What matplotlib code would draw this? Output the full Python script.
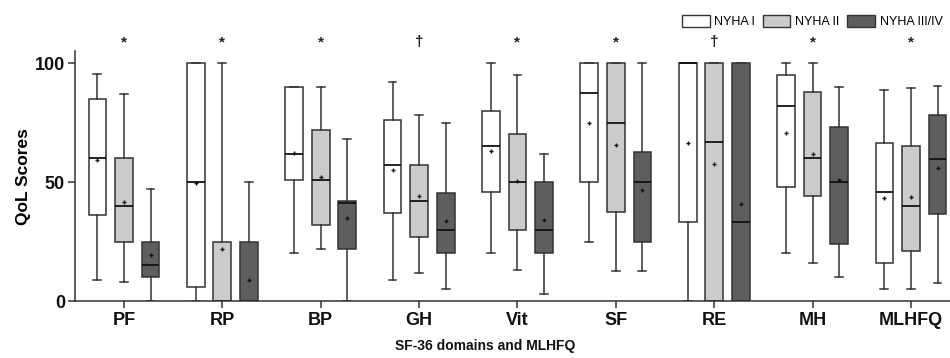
"""QoL box plots by NYHA class across SF-36 domains and MLHFQ."""

import matplotlib

matplotlib.use("Agg")
import matplotlib.pyplot as plt
from matplotlib.patches import Patch

plt.rcParams["font.family"] = ["Liberation Sans", "DejaVu Sans"]

DOMAINS = ["PF", "RP", "BP", "GH", "Vit", "SF", "RE", "MH", "MLHFQ"]
MARKS = ["*", "*", "*", "\u2020", "*", "*", "\u2020", "*", "*"]
GROUPS = ["NYHA I", "NYHA II", "NYHA III/IV"]

# per group: one value per domain
nyha1_lo = [9, 0, 20, 9, 20, 25, 0, 20, 5]
nyha1_q1 = [36, 6, 51, 37, 46, 50, 33.3, 48, 16]
nyha1_med = [60, 50, 62, 57, 65, 87.5, 100, 82, 46]
nyha1_q3 = [85, 100, 90, 76, 80, 100, 100, 95, 66.5]
nyha1_hi = [95.5, 100, 90, 92, 100, 100, 100, 100, 88.5]
nyha1_mean = [59.4, 49.5, 62.4, 55, 63, 75, 66.5, 70.5, 43.4]

nyha2_lo = [8, 0, 22, 12, 13, 12.5, 0, 16, 5]
nyha2_q1 = [25, 0, 32, 27, 30, 37.5, 0, 44, 21]
nyha2_med = [40, 0, 51, 42, 50, 75, 66.7, 60, 40]
nyha2_q3 = [60, 25, 72, 57, 70, 100, 100, 88, 65]
nyha2_hi = [87, 100, 90, 78, 95, 100, 100, 100, 89.4]
nyha2_mean = [41.6, 22, 52.2, 44, 50.6, 65.4, 57.8, 61.8, 43.8]

nyha3_lo = [0, 0, 0, 5, 3, 12.5, 0, 10, 7.5]
nyha3_q1 = [10, 0, 22, 20, 20, 25, 0, 24, 36.5]
nyha3_med = [15, 0, 41.2, 30, 30, 50, 33.3, 50, 59.5]
nyha3_q3 = [25, 25, 42, 45.4, 50, 62.5, 100, 73, 78]
nyha3_hi = [47, 50, 68, 75, 62, 100, 100, 90, 90.5]
nyha3_mean = [19.2, 9, 34.7, 33.6, 34.2, 46.5, 40.6, 51, 56]

FILLS = ["#ffffff", "#cbcbcb", "#5e5e5e"]
EDGE = "#333333"


def _stats(lo, q1, med, q3, hi, mean):
    return [
        dict(whislo=a, q1=b, med=c, q3=d, whishi=e, mean=f, fliers=[])
        for a, b, c, d, e, f in zip(lo, q1, med, q3, hi, mean)
    ]


series = [
    _stats(nyha1_lo, nyha1_q1, nyha1_med, nyha1_q3, nyha1_hi, nyha1_mean),
    _stats(nyha2_lo, nyha2_q1, nyha2_med, nyha2_q3, nyha2_hi, nyha2_mean),
    _stats(nyha3_lo, nyha3_q1, nyha3_med, nyha3_q3, nyha3_hi, nyha3_mean),
]

fig = plt.figure(figsize=(9.5, 3.58), dpi=100)
ax = fig.add_axes([0.0787, 0.159, 0.932, 0.698])

offsets = [-0.27, 0.0, 0.27]
for g, stats in enumerate(series):
    pos = [i + offsets[g] for i in range(len(DOMAINS))]
    ax.bxp(
        stats,
        positions=pos,
        widths=0.18,
        capwidths=0.08,
        showmeans=True,
        showfliers=False,
        patch_artist=True,
        boxprops=dict(facecolor=FILLS[g], edgecolor=EDGE, linewidth=1.1),
        whiskerprops=dict(color=EDGE, linewidth=1.1),
        capprops=dict(color=EDGE, linewidth=1.1),
        medianprops=dict(color="#111111", linewidth=1.3),
        meanprops=dict(marker="+", markersize=3.5, markeredgecolor="#111111",
                       markeredgewidth=1.0),
        manage_ticks=False,
    )

for i, m in enumerate(MARKS):
    ax.text(i, 108.8, m, ha="center", va="center", fontsize=11, fontweight="bold",
            color="#222222", clip_on=False)

ax.set_xlim(-0.5, 8.5)
ax.set_ylim(0, 105)
ax.set_xticks(range(len(DOMAINS)), DOMAINS)
ax.set_yticks([0, 50, 100])
for lab in ax.get_xticklabels() + ax.get_yticklabels():
    lab.set_fontsize(13)
    lab.set_fontweight("bold")
    lab.set_color("#111111")
ax.tick_params(axis="both", length=5, width=1.1, color="#333333")
ax.tick_params(axis="x", pad=3)
ax.tick_params(axis="y", pad=2)
for side in ("top", "right"):
    ax.spines[side].set_visible(False)
for side in ("left", "bottom"):
    ax.spines[side].set_color("#333333")
    ax.spines[side].set_linewidth(1.1)
ax.set_ylabel("QoL Scores", fontsize=12.5, fontweight="bold", labelpad=3)

fig.text(485 / 950, 0.052, "SF-36 domains and MLHFQ", ha="center", va="top",
         fontsize=10, fontweight="bold", color="#111111")

handles = [Patch(facecolor=c, edgecolor=EDGE, linewidth=1.0) for c in FILLS]
fig.legend(handles, GROUPS, loc="upper right", bbox_to_anchor=(1.0, 0.98), ncol=3,
           frameon=False, fontsize=9, handlelength=2.2, handleheight=1.2,
           handletextpad=0.4, columnspacing=0.6, borderaxespad=0.2)

fig.savefig("out.png", dpi=100)
